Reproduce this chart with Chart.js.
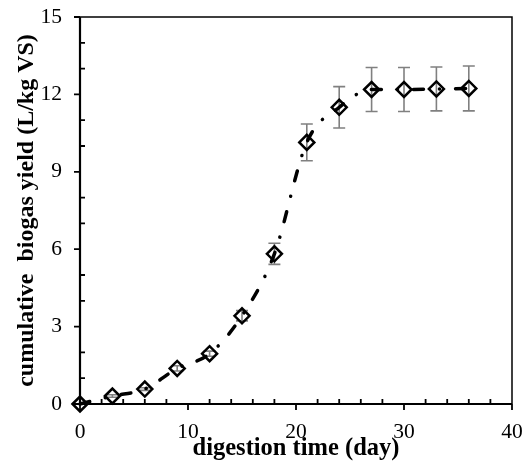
<!DOCTYPE html>
<html>
<head>
<meta charset="utf-8">
<script src="https://cdn.jsdelivr.net/npm/chart.js@4.4.1/dist/chart.umd.min.js"></script>
<style>
  html, body { margin: 0; padding: 0; background: #fff; }
  #wrap { width: 529px; height: 461px; }
</style>
</head>
<body>
<div id="wrap"><canvas id="biogasChart" width="529" height="461"></canvas></div>
<script>
// digestion days and cumulative biogas yield (L/kg VS) with error (+/-)
const days = [0, 3, 6, 9, 12, 15, 18, 21, 24, 27, 30, 33, 36];
const yieldMean = [0, 0.31, 0.58, 1.38, 1.95, 3.42, 5.82, 10.14, 11.5, 12.19, 12.19, 12.21, 12.23];
const yieldErr = [0, 0.05, 0.05, 0.1, 0.1, 0.2, 0.41, 0.71, 0.8, 0.85, 0.85, 0.85, 0.87];
const xTicks = [0, 10, 20, 30, 40];
const yTicks = [0, 3, 6, 9, 12, 15];

const serif = "'Liberation Serif', 'Times New Roman', serif";

// frame, tick marks and error bars
const framePlugin = {
  id: 'frame',
  beforeDatasetsDraw(chart) {
    const ctx = chart.ctx;
    const x = chart.scales.x;
    const y = chart.scales.y;
    ctx.save();
    ctx.strokeStyle = '#808080';
    ctx.lineWidth = 1.6;
    days.forEach((d, i) => {
      const e = yieldErr[i];
      if (!e) return;
      const px = x.getPixelForValue(d);
      const top = y.getPixelForValue(yieldMean[i] + e);
      const bot = y.getPixelForValue(yieldMean[i] - e);
      ctx.beginPath();
      ctx.moveTo(px, top); ctx.lineTo(px, bot);
      ctx.moveTo(px - 6, top); ctx.lineTo(px + 6, top);
      ctx.moveTo(px - 6, bot); ctx.lineTo(px + 6, bot);
      ctx.stroke();
    });
    ctx.restore();
  },
  afterDraw(chart) {
    const ctx = chart.ctx;
    const a = chart.chartArea;
    const x = chart.scales.x;
    const y = chart.scales.y;
    ctx.save();
    ctx.strokeStyle = '#000';
    // top and right border
    ctx.lineWidth = 1.5;
    ctx.beginPath();
    ctx.moveTo(a.left, a.top); ctx.lineTo(a.right, a.top); ctx.lineTo(a.right, a.bottom);
    ctx.stroke();
    // axes
    ctx.lineWidth = 2.2;
    ctx.beginPath();
    ctx.moveTo(a.left, a.top); ctx.lineTo(a.left, a.bottom); ctx.lineTo(a.right, a.bottom);
    ctx.stroke();
    // ticks
    ctx.lineWidth = 1.8;
    ctx.beginPath();
    for (let v = 0; v <= 15; v++) {
      const py = y.getPixelForValue(v);
      if (v % 3 === 0) { ctx.moveTo(a.left - 6, py); ctx.lineTo(a.left, py); }
      else { ctx.moveTo(a.left, py); ctx.lineTo(a.left + 5, py); }
    }
    for (let v = 0; v <= 40; v += 2) {
      const px = x.getPixelForValue(v);
      if (v % 10 === 0) { ctx.moveTo(px, a.bottom); ctx.lineTo(px, a.bottom + 6); }
      else { ctx.moveTo(px, a.bottom); ctx.lineTo(px, a.bottom - 5); }
    }
    ctx.stroke();
    ctx.restore();
  }
};

const ctx = document.getElementById('biogasChart').getContext('2d');
const points = days.map((d, i) => ({ x: d, y: yieldMean[i] }));

new Chart(ctx, {
  type: 'scatter',
  data: {
    datasets: [
      {
        label: 'fit',
        data: points,
        showLine: true,
        borderColor: '#000',
        borderWidth: 3.5,
        borderDash: [10, 16, 0.1, 16],
        borderCapStyle: 'round',
        cubicInterpolationMode: 'monotone',
        pointRadius: 0,
        clip: false
      },
      {
        label: 'measured',
        data: points,
        showLine: false,
        pointStyle: 'rectRot',
        pointRadius: 7.5,
        pointBorderWidth: 2.5,
        pointBorderColor: '#000',
        pointBackgroundColor: 'rgba(0,0,0,0)',
        clip: false
      }
    ]
  },
  options: {
    responsive: false,
    animation: false,
    events: [],
    layout: { padding: { top: 17, right: 17, left: 0, bottom: 0 } },
    plugins: {
      legend: { display: false },
      tooltip: { enabled: false }
    },
    scales: {
      x: {
        type: 'linear',
        min: 0,
        max: 40,
        afterBuildTicks: s => { s.ticks = xTicks.map(v => ({ value: v })); },
        afterFit: s => { s.height = 57; s.paddingLeft = 0; s.paddingRight = 0; },
        grid: { display: false, drawTicks: false },
        border: { display: false },
        ticks: {
          padding: 15,
          color: '#000',
          maxRotation: 0,
          font: { family: serif, size: 21.5 }
        },
        title: {
          display: true,
          text: 'digestion time (day)',
          color: '#000',
          padding: { top: 0, bottom: 0 },
          font: { family: serif, size: 24.5, weight: 'bold', lineHeight: 1 }
        }
      },
      y: {
        type: 'linear',
        min: 0,
        max: 15,
        afterBuildTicks: s => { s.ticks = yTicks.map(v => ({ value: v })); },
        afterFit: s => { s.width = 80; s.paddingTop = 0; s.paddingBottom = 0; },
        grid: { display: false, drawTicks: false },
        border: { display: false },
        ticks: {
          padding: 18,
          color: '#000',
          font: { family: serif, size: 21.5 }
        },
        title: {
          display: true,
          text: 'cumulative  biogas yield (L/kg VS)',
          color: '#000',
          padding: { top: 15, bottom: 0 },
          font: { family: serif, size: 24, weight: 'bold', lineHeight: 1 }
        }
      }
    }
  },
  plugins: [framePlugin]
});
</script>
</body>
</html>
